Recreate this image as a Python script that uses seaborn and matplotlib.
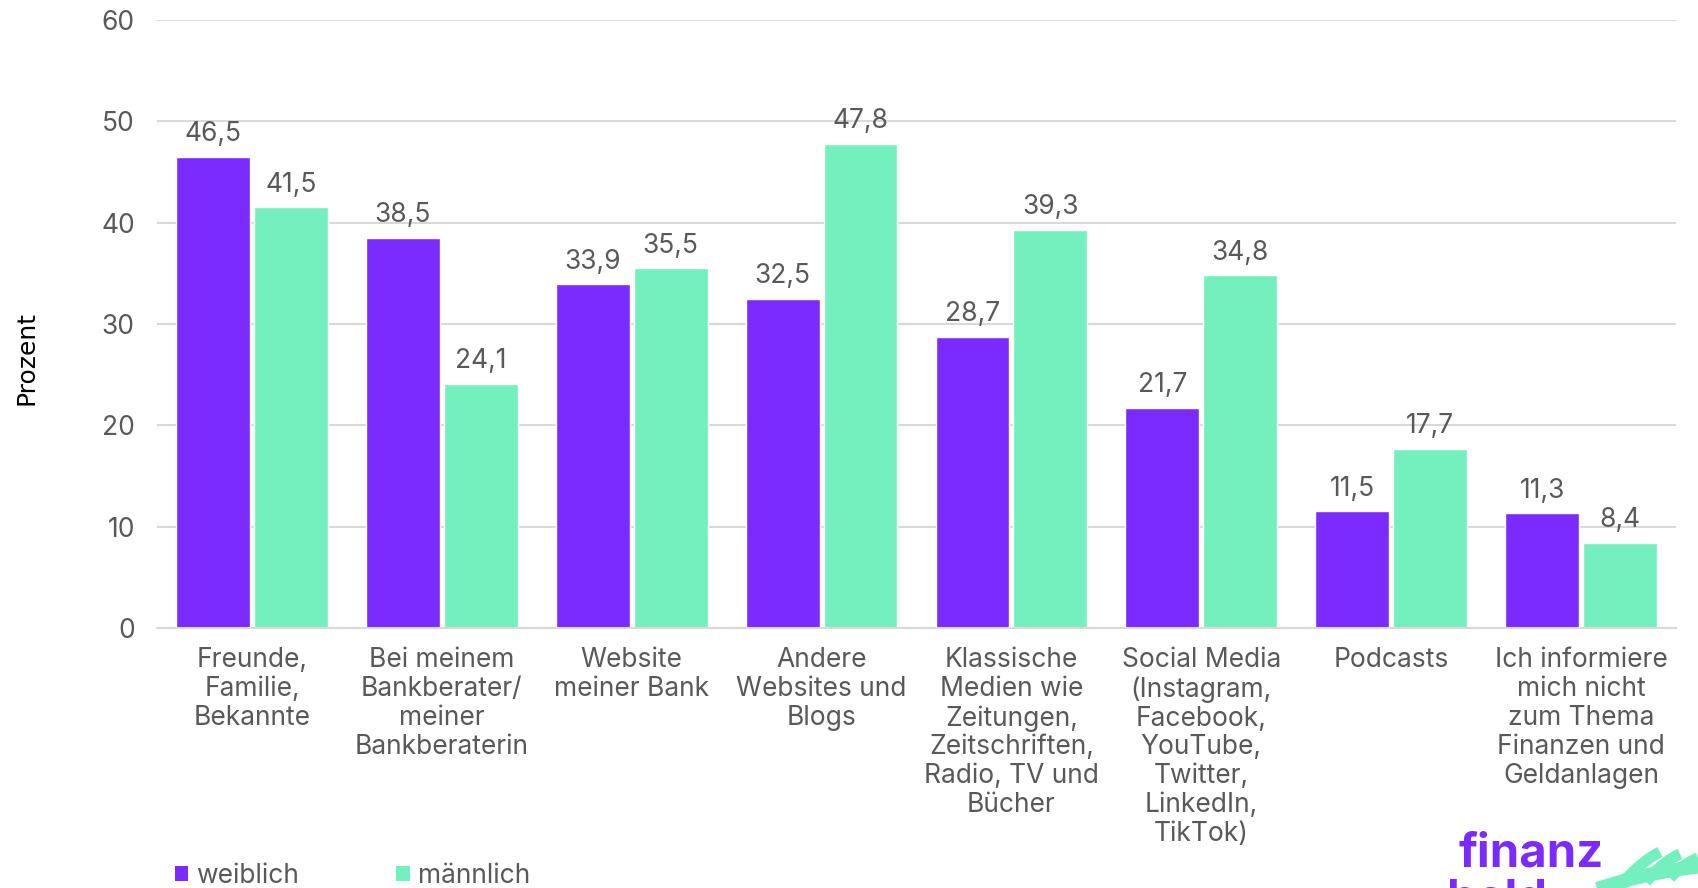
import numpy as np
import pandas as pd
import matplotlib
matplotlib.use("Agg")
import matplotlib.pyplot as plt
import seaborn as sns
from matplotlib.patches import Patch
from matplotlib.lines import Line2D

# ============================
#  DATA
# ============================
categories = [
    "Freunde,\nFamilie,\nBekannte",
    "Bei meinem\nBankberater/\nmeiner\nBankberaterin",
    "Website\nmeiner Bank",
    "Andere\nWebsites und\nBlogs",
    "Klassische\nMedien wie\nZeitungen,\nZeitschriften,\nRadio, TV und\nBücher",
    "Social Media\n(Instagram,\nFacebook,\nYouTube,\nTwitter,\nLinkedIn,\nTikTok)",
    "Podcasts",
    "Ich informiere\nmich nicht\nzum Thema\nFinanzen und\nGeldanlagen",
]
weiblich = [46.5, 38.5, 33.9, 32.5, 28.7, 21.7, 11.5, 11.3]
maennlich = [41.5, 24.1, 35.5, 47.8, 39.3, 34.8, 17.7, 8.4]
series_names = ["weiblich", "männlich"]
y_ticks = [0, 10, 20, 30, 40, 50, 60]

PURPLE = "#7B2BFF"
GREEN = "#74F0BF"
TEXT = "#595959"
GRID = "#D9D9D9"

df = pd.DataFrame({
    "Kategorie": categories * 2,
    "Prozent": weiblich + maennlich,
    "Geschlecht": [series_names[0]] * len(categories) + [series_names[1]] * len(categories),
})

# ============================
#  PLOT
# ============================
sns.set_theme(style="white")
plt.rcParams["font.family"] = ["Inter", "DejaVu Sans"]

W, H = 1698, 888
fig = plt.figure(figsize=(W / 100, H / 100), dpi=100)
ax = fig.add_axes([0.0925, 0.2928, 0.8945, 0.6847])

sns.barplot(data=df, x="Kategorie", y="Prozent", hue="Geschlecht",
            palette=[PURPLE, GREEN], width=0.82, gap=0.05, saturation=1,
            legend=False, ax=ax)

for cont in ax.containers:
    ax.bar_label(cont, labels=[f"{v:.1f}".replace(".", ",") for v in cont.datavalues],
                 padding=7, fontsize=19, color=TEXT)

ax.set_xlim(-0.5, len(categories) - 0.5)
ax.set_ylim(0, 60)
ax.set_yticks(y_ticks)
ax.yaxis.grid(True, color=GRID, linewidth=1.5)
ax.set_axisbelow(True)
for s in ["top", "right", "left"]:
    ax.spines[s].set_visible(False)
ax.spines["bottom"].set_color(GRID)
ax.spines["bottom"].set_linewidth(1.5)

ax.tick_params(axis="both", length=0, colors=TEXT, labelsize=19)
ax.tick_params(axis="y", pad=16)
ax.tick_params(axis="x", pad=14)
for lbl in ax.get_xticklabels():
    lbl.set_linespacing(1.14)

ax.set_xlabel("")
ax.set_ylabel("Prozent", fontsize=18, color="black", family="DejaVu Sans")
ax.yaxis.set_label_coords(-0.078, 0.444)

# legend at bottom left
handles = [Patch(facecolor=PURPLE, edgecolor="none"), Patch(facecolor=GREEN, edgecolor="none")]
fig.legend(handles, series_names, loc="lower left", bbox_to_anchor=(0.089, -0.028),
           ncol=2, frameon=False, fontsize=19, labelcolor=TEXT,
           handlelength=0.5, handleheight=0.5, handletextpad=0.3, columnspacing=3.7)

# logo (cut off at the bottom right, as in the original)
fig.text(0.859, 0.024, "finanz", fontsize=34, fontweight="bold", color=PURPLE, ha="left", va="baseline")
fig.text(0.852, -0.028, "held", fontsize=34, fontweight="bold", color=PURPLE, ha="left", va="baseline")


def wave(p0, p1, p2, lw):
    t = np.linspace(0, 1, 50)[:, None]
    pts = (1 - t) ** 2 * np.array(p0) + 2 * (1 - t) * t * np.array(p1) + t ** 2 * np.array(p2)
    fig.add_artist(Line2D(pts[:, 0] / W, 1 - pts[:, 1] / H, color=GREEN,
                          linewidth=lw, solid_capstyle="butt"))


wave((1575, 897), (1640, 872), (1705, 866), 10)
wave((1620, 886), (1640, 862), (1660, 852), 8)
wave((1646, 882), (1662, 862), (1680, 854), 8)
wave((1670, 878), (1683, 864), (1698, 858), 8)

fig.savefig("out.png", dpi=100)
